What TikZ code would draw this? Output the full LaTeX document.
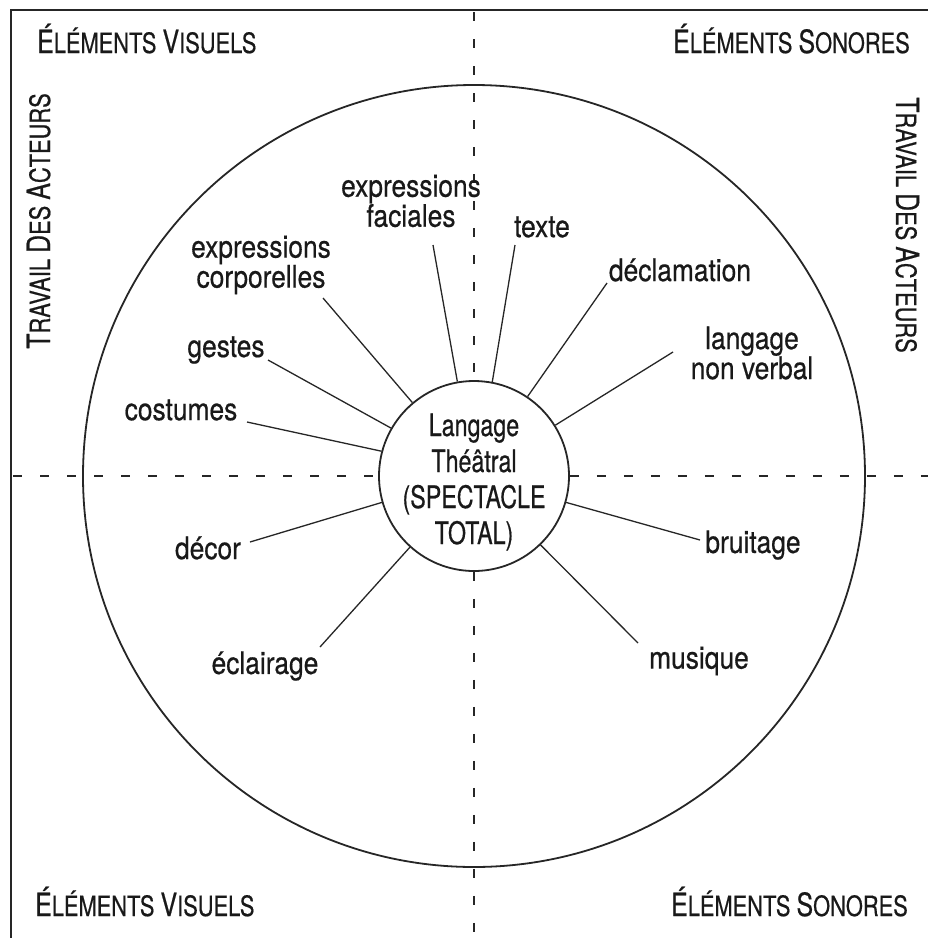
\documentclass[tikz,border=0pt]{standalone}
\usepackage{fontspec}
\newfontfamily\labfont{TeX Gyre Heros}[FakeStretch=0.85,FakeBold=0.5]
\newfontfamily\innfont{TeX Gyre Heros}[FakeStretch=0.75,FakeBold=0.5]
\newfontfamily\hdfont{TeX Gyre Heros}[FakeStretch=0.78,FakeBold=0.5]
\newcommand\hsc[2]{{\fontsize{32}{32}\selectfont #1}{\fontsize{28}{28}\selectfont #2}}
\tikzset{
  lab/.style={font=\labfont\fontsize{31}{30}\selectfont, align=center, inner sep=0pt, text=black!90},
  hd/.style={font=\hdfont\fontsize{28}{28}\selectfont, inner sep=0pt, text=black!90},
  spoke/.style={line width=1.3pt, draw=black!85},
  dashline/.style={line width=1.6pt, draw=black!85, dash pattern=on 9pt off 18pt},
  frame/.style={line width=1.8pt, draw=black!85},
  ring/.style={line width=1.8pt, draw=black!85}
}
\begin{document}
\begin{tikzpicture}[x=1pt,y=-1pt]
\useasboundingbox (0,0) rectangle (928,938);
\fill[white] (0,0) rectangle (928,938);
% frame
\coordinate (tl) at (11,10);
\coordinate (tr) at (928,10);
\coordinate (bl) at (11,938);
\draw[frame] (tr) -- (tl) -- (bl);
% central circle and its text
\node[circle, ring, minimum size=190pt, inner sep=0pt] (c) at (474,476) {};
\node[align=center, inner sep=0pt, font=\innfont\fontsize{31}{36}\selectfont, text=black!90] (ct) at (474,482)
  {Langage\\Théâtral\\(SPECTACLE\\TOTAL)};
% outer circle
\draw[ring] (c.center) circle[radius=391pt];
% dashed axes
\coordinate (vt) at (474,12);
\coordinate (vb) at (474,938);
\coordinate (hl) at (13,476);
\coordinate (hr) at (928,476);
\draw[dashline] (vt) -- (c.north);
\draw[dashline] (c.south) -- (vb);
\draw[dashline] (hl) -- (c.west);
\draw[dashline] (c.east) -- (hr);
% headings
\node[hd, anchor=base west] (hvt) at (37,53) {\hsc{É}{LÉMENTS} \hsc{V}{ISUELS}};
\node[hd, anchor=base east] (hst) at (910,53) {\hsc{É}{LÉMENTS} \hsc{S}{ONORES}};
\node[hd, anchor=base west] (hvb) at (35,916) {\hsc{É}{LÉMENTS} \hsc{V}{ISUELS}};
\node[hd, anchor=base east] (hsb) at (908,916) {\hsc{É}{LÉMENTS} \hsc{S}{ONORES}};
\node[hd, rotate=90, anchor=base] (tal) at (50,221) {\hsc{T}{RAVAIL} \hsc{D}{ES} \hsc{A}{CTEURS}};
\node[hd, rotate=-90, anchor=base] (tar) at (896,225) {\hsc{T}{RAVAIL} \hsc{D}{ES} \hsc{A}{CTEURS}};
% labels
\node[lab] (fac) at (411,201) {expressions\\faciales};
\node[lab] (cor) at (261,265) {expressions\\corporelles};
\node[lab] (ges) at (226,350) {gestes};
\node[lab] (cos) at (181,410) {costumes};
\node[lab] (tex) at (542,227) {texte};
\node[lab] (dec) at (680,270) {déclamation};
\node[lab] (lnv) at (752,353) {langage\\non verbal};
\node[lab] (bru) at (753,545) {bruitage};
\node[lab] (mus) at (699,661) {musique};
\node[lab] (ecl) at (265,666) {éclairage};
\node[lab] (dco) at (208,548) {décor};
% spoke ends
\coordinate (pcos) at (247,422);
\coordinate (pges) at (268,360);
\coordinate (pcor) at (323,298);
\coordinate (pfac) at (433,245);
\coordinate (ptex) at (515,245);
\coordinate (pdec) at (607,283);
\coordinate (plnv) at (673,352);
\coordinate (pbru) at (700,540);
\coordinate (pmus) at (638,643);
\coordinate (pecl) at (320,647);
\coordinate (pdco) at (250,542);
\draw[spoke] (pcos) -- (c.165);
\draw[spoke] (pges) -- (c.150);
\draw[spoke] (pcor) -- (c.130);
\draw[spoke] (pfac) -- (c.100);
\draw[spoke] (ptex) -- (c.79);
\draw[spoke] (pdec) -- (c.56);
\draw[spoke] (plnv) -- (c.32);
\draw[spoke] (pbru) -- (c.-16);
\draw[spoke] (pmus) -- (c.-46);
\draw[spoke] (pecl) -- (c.228);
\draw[spoke] (pdco) -- (c.196);
\end{tikzpicture}
\end{document}
